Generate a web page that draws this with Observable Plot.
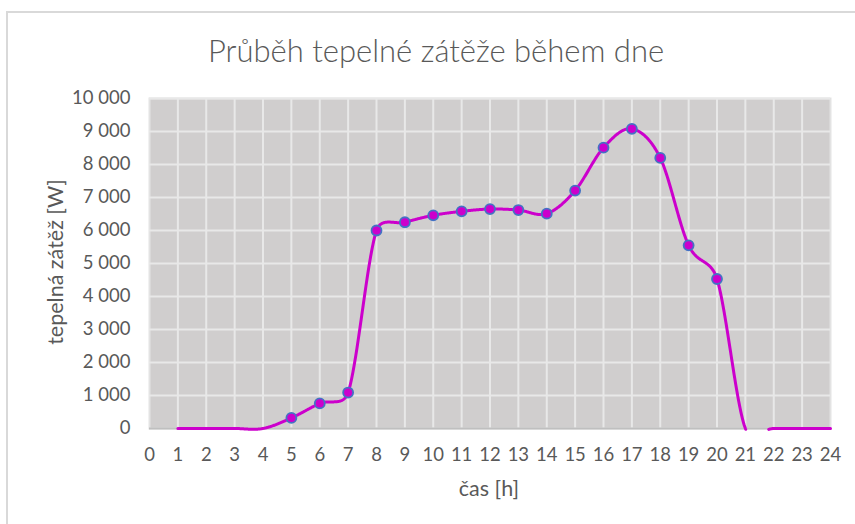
<!DOCTYPE html>
<html>
<head>
<meta charset="utf-8">
<script src="https://cdn.jsdelivr.net/npm/d3@7"></script>
<script src="https://cdn.jsdelivr.net/npm/@observablehq/plot@0.6"></script>
<style>
  html, body { margin: 0; padding: 0; background: #fff; }
  #wrap { position: relative; width: 855px; height: 524px; overflow: hidden; font-family: Lato, "Open Sans", sans-serif; color: #595959; }
  #border { position: absolute; left: 6px; top: 11px; width: 870px; height: 540px; border: 2px solid #d9d9d9; box-sizing: border-box; }
  #chart { position: absolute; left: 0; top: 0; }
  .lbl { position: absolute; white-space: nowrap; transform: translate(-50%, -50%); }
  #title { left: 436px; top: 50px; font-size: 31px; font-weight: 300; }
  #xlabel { left: 489px; top: 488px; font-size: 21.5px; }
  #ylabel { left: 55px; top: 262px; font-size: 21.5px; transform: translate(-50%, -50%) rotate(-90deg); }
</style>
</head>
<body>
<div id="wrap">
  <div id="border"></div>
  <div id="chart"></div>
  <div class="lbl" id="title">Průběh tepelné zátěže během dne</div>
  <div class="lbl" id="xlabel">čas [h]</div>
  <div class="lbl" id="ylabel">tepelná zátěž [W]</div>
</div>
<script>
const hours = [1,2,3,4,5,6,7,8,9,10,11,12,13,14,15,16,17,18,19,20,21,22,23,24];
const load  = [0,0,0,0,320,760,1090,6000,6250,6460,6580,6650,6620,6510,7210,8510,9080,8200,5550,4530,0,0,0,0];
const xGrid = [1,2,3,4,5,6,7,8,9,10,11,12,13,14,15,16,17,18,19,20,21,22,23];
const yGrid = [1000,2000,3000,4000,5000,6000,7000,8000,9000,10000];

const data = hours.map((h, i) => ({h, v: load[i]}));
const pts = data.filter(d => d.v > 0);

const fmt = d => d3.format(",")(d).replace(/,/g, " ");

// Spreadsheet-style smoothed line (Bezier with control points capped at half the chord),
// drawn in pixel space; parts dipping below the plot floor are left out.
function smoothCurve(context) {
  let p;
  return {
    areaStart() {}, areaEnd() {},
    lineStart() { p = []; },
    point(x, y) { p.push([+x, +y]); },
    lineEnd() {
      const n = p.length;
      if (!n) return;
      const floor = Math.max(...p.map(q => q[1]));
      const dist = (a, b) => Math.hypot(b[0] - a[0], b[1] - a[1]);
      let pen = false;
      const emit = (x, y) => {
        if (y <= floor + 1.0) {
          if (pen) context.lineTo(x, y); else { context.moveTo(x, y); pen = true; }
        } else pen = false;
      };
      emit(p[0][0], p[0][1]);
      for (let i = 0; i < n - 1; i++) {
        const p0 = p[Math.max(i - 1, 0)], p1 = p[i], p2 = p[i + 1], p3 = p[Math.min(i + 2, n - 1)];
        const d12 = dist(p1, p2), d02 = dist(p0, p2), d13 = dist(p1, p3);
        let f1 = 1 / 6, f2 = 1 / 6;
        if (d02 / 6 >= d12 / 2) f1 = d02 > 0 ? d12 / 2 / d02 : 0;
        if (d13 / 6 >= d12 / 2) f2 = d13 > 0 ? d12 / 2 / d13 : 0;
        const b1 = [p1[0] + (p2[0] - p0[0]) * f1, p1[1] + (p2[1] - p0[1]) * f1];
        const b2 = [p2[0] - (p3[0] - p1[0]) * f2, p2[1] - (p3[1] - p1[1]) * f2];
        const N = 48;
        for (let k = 1; k <= N; k++) {
          const t = k / N, u = 1 - t;
          const a = u * u * u, b = 3 * u * u * t, c = 3 * u * t * t, d = t * t * t;
          emit(a * p1[0] + b * b1[0] + c * b2[0] + d * p2[0],
               a * p1[1] + b * b1[1] + c * b2[1] + d * p2[1]);
        }
      }
    }
  };
}

const chart = Plot.plot({
  width: 855,
  height: 524,
  marginLeft: 149,
  marginRight: 25,
  marginTop: 98,
  marginBottom: 96,
  style: { background: "transparent", fontFamily: "Lato, 'Open Sans', sans-serif", fontSize: "18.5px", color: "#595959" },
  x: { domain: [0, 24], ticks: 24, tickSize: 0, tickPadding: 19, label: null, tickFormat: d => String(d) },
  y: { domain: [0, 10000], ticks: 10, tickSize: 0, tickPadding: 19, label: null, tickFormat: fmt },
  marks: [
    Plot.frame({ fill: "#d0cece", stroke: "#e3e3e3", strokeWidth: 2 }),
    Plot.ruleX(xGrid, { stroke: "#e8e8e8", strokeWidth: 2 }),
    Plot.ruleY(yGrid, { stroke: "#e8e8e8", strokeWidth: 2 }),
    Plot.ruleY([0], { stroke: "#bfbfbf", strokeWidth: 2 }),
    Plot.line(data, { x: "h", y: "v", curve: smoothCurve, stroke: "#cc00cc", strokeWidth: 3 }),
    Plot.dot(pts, { x: "h", y: "v", r: 5, fill: "#cc00cc", stroke: "#4472c4", strokeWidth: 1.8 })
  ]
});
document.getElementById("chart").appendChild(chart);
</script>
</body>
</html>
